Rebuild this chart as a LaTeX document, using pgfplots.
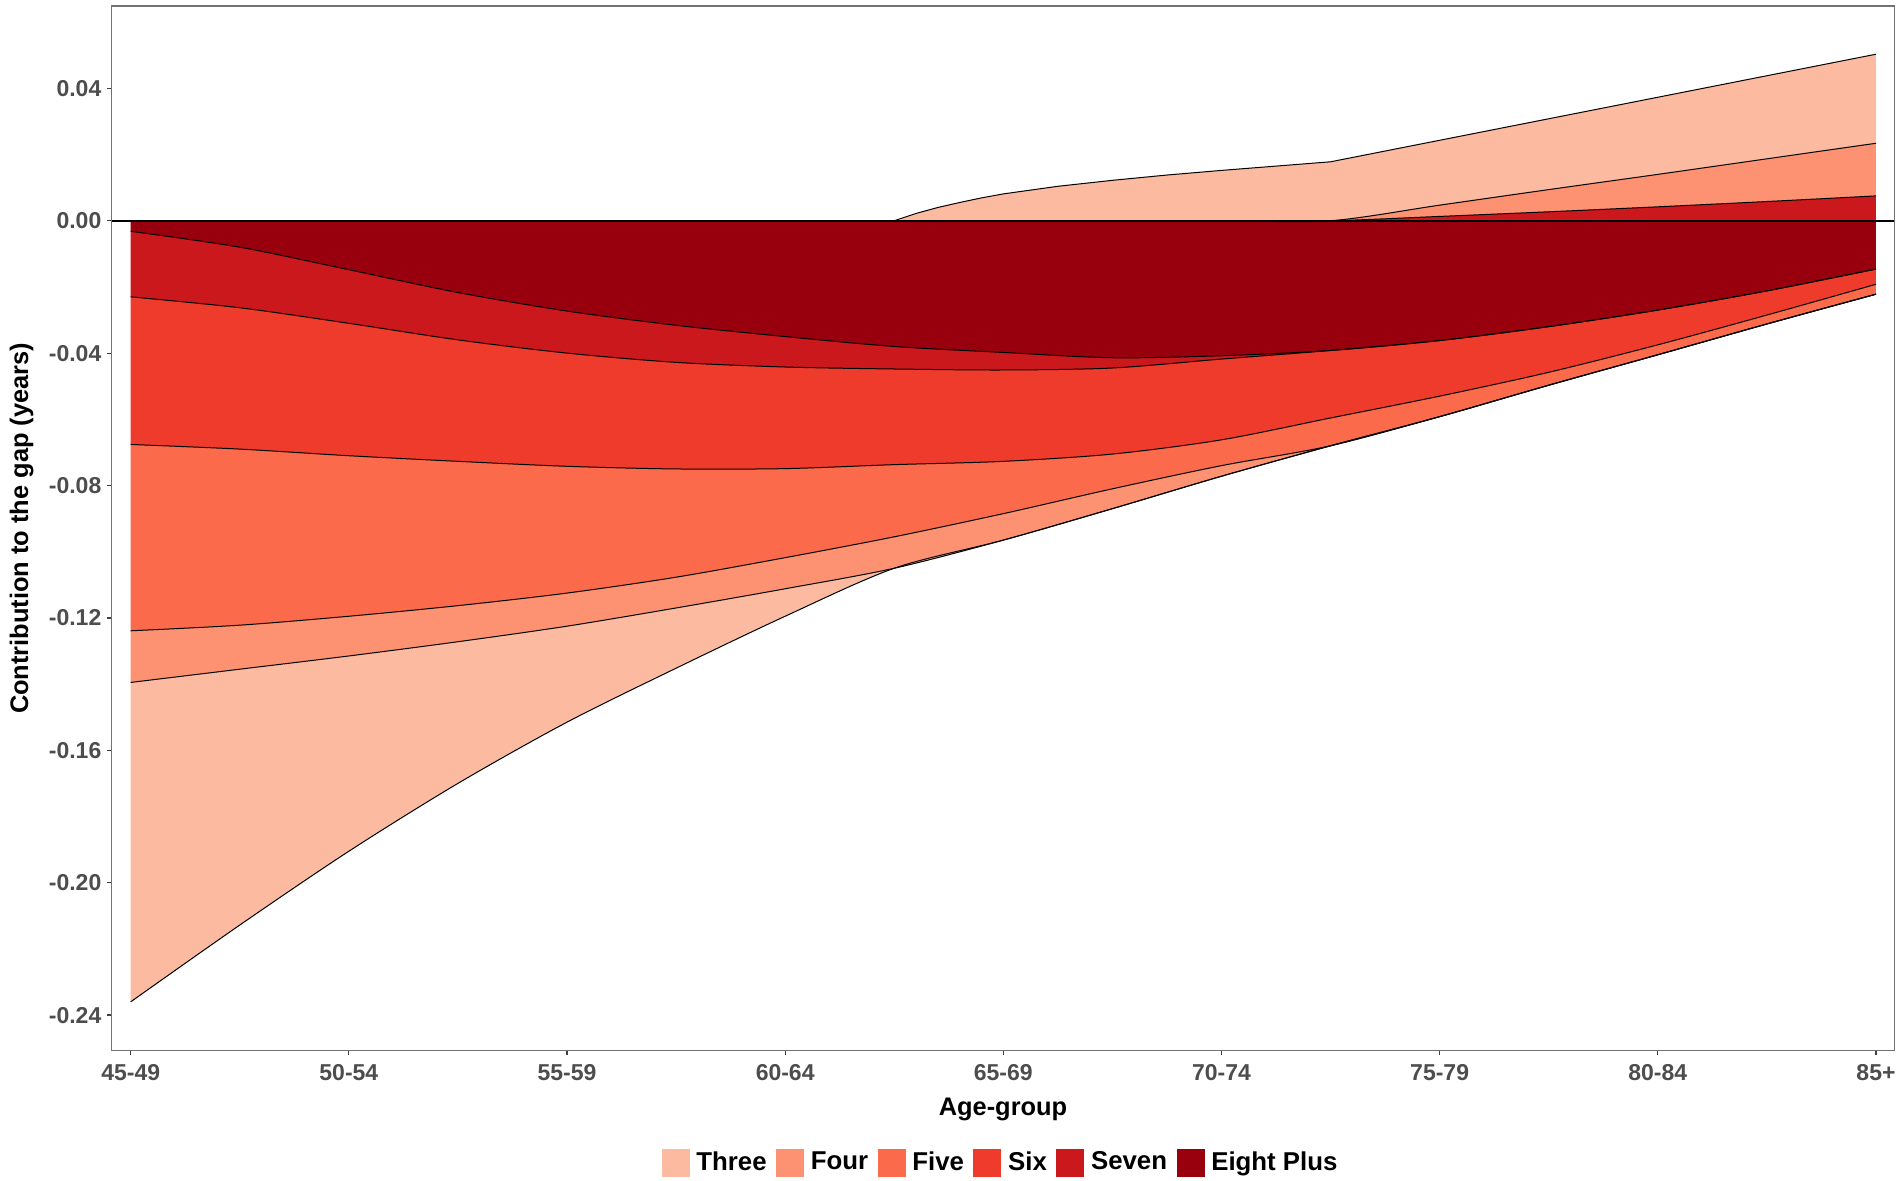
\documentclass[border=0pt]{standalone}
\usepackage{fontspec}
\setmainfont{Liberation Sans}
\usepackage{pgfplots}
\pgfplotsset{compat=1.18}
\usepgfplotslibrary{fillbetween}
\usepackage{pgfplotstable}

\definecolor{cThree}{HTML}{FCBBA1}
\definecolor{cFour}{HTML}{FC9272}
\definecolor{cFive}{HTML}{FB6A4A}
\definecolor{cSix}{HTML}{EF3B2C}
\definecolor{cSeven}{HTML}{CB181D}
\definecolor{cEight}{HTML}{99000D}
\definecolor{tickgrey}{HTML}{4D4D4D}

% boundaries of the stacked areas (negative stack: E, S7, S6, S5, S4, S3; positive stack: P7, P4)
\pgfplotstableread{
x     E        S7       S6       S5       S4       S3       P7      P4      Z
0     -0.0032  -0.0230  -0.0676  -0.1239  -0.1395  -0.2360  0       0       0
0.5   -0.0080  -0.0263  -0.0690  -0.1222  -0.1355  -0.2128  0       0       0
1     -0.0148  -0.0310  -0.0710  -0.1195  -0.1315  -0.1905  0       0       0
1.5   -0.0217  -0.0360  -0.0727  -0.1163  -0.1272  -0.1700  0       0       0
2     -0.0273  -0.0400  -0.0742  -0.1125  -0.1225  -0.1515  0       0       0
2.5   -0.0316  -0.0428  -0.0750  -0.1077  -0.1170  -0.1352  0       0       0
3     -0.0350  -0.0442  -0.0749  -0.1018  -0.1112  -0.1195  0       0       0
3.5   -0.0380  -0.0448  -0.0737  -0.0955  -0.1050  -0.1050  0       0       0
4     -0.0398  -0.0451  -0.0727  -0.0885  -0.0965  -0.0965  0       0       0
4.5   -0.0414  -0.0445  -0.0705  -0.0810  -0.0870  -0.0870  0       0       0
5     -0.0408  -0.0418  -0.0662  -0.0740  -0.0772  -0.0772  0       0       0
5.5   -0.0392  -0.0392  -0.0596  -0.0680  -0.0680  -0.0680  0       0       0
6     -0.0362  -0.0362  -0.0530  -0.0592  -0.0592  -0.0592  0.0013  0.0047  0
6.5   -0.0320  -0.0320  -0.0458  -0.0497  -0.0497  -0.0497  0.0027  0.0094  0
7     -0.0270  -0.0270  -0.0375  -0.0405  -0.0405  -0.0405  0.0042  0.0140  0
7.5   -0.0212  -0.0212  -0.0285  -0.0312  -0.0312  -0.0312  0.0058  0.0187  0
8     -0.0146  -0.0146  -0.0192  -0.0222  -0.0222  -0.0222  0.0075  0.0234  0
}\bands

% top of the positive stack (Three)
\pgfplotstableread{
x     P3
0     0
3.5   0
3.6   0.0022
3.7   0.0040
3.8   0.0055
3.9   0.0069
4.0   0.0081
4.25  0.0104
4.5   0.0122
4.75  0.0138
5.0   0.0152
5.25  0.0165
5.5   0.0178
6     0.0243
6.5   0.0308
7     0.0373
7.5   0.0438
8     0.0503
}\threetop

\begin{document}
\begin{tikzpicture}
\begin{axis}[
  scale only axis, width=891.3pt, height=522.35pt,
  xmin=-0.087, xmax=8.084, ymin=-0.25076, ymax=0.06487,
  axis line style={draw=black!55, line width=0.7pt},
  xtick={0,1,2,3,4,5,6,7,8},
  xticklabels={45-49,50-54,55-59,60-64,65-69,70-74,75-79,80-84,85+},
  ytick={-0.24,-0.20,-0.16,-0.12,-0.08,-0.04,0,0.04},
  yticklabels={-0.24,-0.20,-0.16,-0.12,-0.08,-0.04,0.00,0.04},
  tick align=outside, major tick length=2.15pt,
  xtick pos=bottom, ytick pos=left,
  tick style={draw=black!75, line width=0.6pt},
  ticklabel style={font=\fontsize{11.5}{13}\selectfont\bfseries, text=tickgrey},
  yticklabel style={inner sep=0pt, xshift=-2.85pt},
  xticklabel style={inner sep=0pt, yshift=-4.6pt},
  xlabel={Age-group},
  ylabel={Contribution to the gap (years)},
  label style={font=\fontsize{12.7}{14}\selectfont\bfseries, text=black},
  xlabel style={at={(axis description cs:0.5,-0.0567)}, anchor=center},
  ylabel style={at={(axis description cs:-0.0505,0.5)}, anchor=center},
  legend style={at={(axis description cs:0.5,-0.1070)}, anchor=center,
    draw=none, fill=none, inner sep=0pt,
    font=\fontsize{12.9}{14}\selectfont\bfseries,
    nodes={inner xsep=3.5pt, inner ysep=0pt},
    /tikz/every even column/.append style={column sep=1.2pt}},
  legend columns=6,
]
% named boundary paths
\addplot[name path=Z, draw=none, forget plot] table[x=x, y=Z]{\bands};
\addplot[name path=E, draw=none, smooth, forget plot] table[x=x, y=E]{\bands};
\addplot[name path=S7, draw=none, smooth, forget plot] table[x=x, y=S7]{\bands};
\addplot[name path=S6, draw=none, smooth, forget plot] table[x=x, y=S6]{\bands};
\addplot[name path=S5, draw=none, smooth, forget plot] table[x=x, y=S5]{\bands};
\addplot[name path=S4, draw=none, smooth, forget plot] table[x=x, y=S4]{\bands};
\addplot[name path=S3, draw=none, smooth, forget plot] table[x=x, y=S3]{\bands};
\addplot[name path=P7, draw=none, smooth, forget plot] table[x=x, y=P7]{\bands};
\addplot[name path=P4, draw=none, smooth, forget plot] table[x=x, y=P4]{\bands};
\addplot[name path=P3, draw=none, forget plot] table[x=x, y=P3]{\threetop};
% fills
\addplot[fill=cEight, draw=none, forget plot] fill between[of=Z and E];
\addplot[fill=cSeven, draw=none, forget plot] fill between[of=E and S7];
\addplot[fill=cSix, draw=none, forget plot] fill between[of=S7 and S6];
\addplot[fill=cFive, draw=none, forget plot] fill between[of=S6 and S5];
\addplot[fill=cFour, draw=none, forget plot] fill between[of=S5 and S4];
\addplot[fill=cThree, draw=none, forget plot] fill between[of=S4 and S3];
\addplot[fill=cSeven, draw=none, forget plot] fill between[of=Z and P7];
\addplot[fill=cFour, draw=none, forget plot] fill between[of=P7 and P4];
\addplot[fill=cThree, draw=none, forget plot] fill between[of=P4 and P3];
% outlines
\addplot[black, line width=0.5pt, smooth, forget plot] table[x=x, y=E]{\bands};
\addplot[black, line width=0.5pt, smooth, forget plot] table[x=x, y=S7]{\bands};
\addplot[black, line width=0.5pt, smooth, forget plot] table[x=x, y=S6]{\bands};
\addplot[black, line width=0.5pt, smooth, forget plot] table[x=x, y=S5]{\bands};
\addplot[black, line width=0.5pt, smooth, forget plot] table[x=x, y=S4]{\bands};
\addplot[black, line width=0.5pt, smooth, forget plot] table[x=x, y=S3]{\bands};
\addplot[black, line width=0.5pt, smooth, forget plot] table[x=x, y=P7]{\bands};
\addplot[black, line width=0.5pt, smooth, forget plot] table[x=x, y=P4]{\bands};
\addplot[black, line width=0.5pt, forget plot] table[x=x, y=P3]{\threetop};
% zero line
\addplot[black, line width=1pt, forget plot] coordinates {(-0.087,0) (8.084,0)};
% legend
\addlegendimage{legend image code/.code={\fill[cThree] (0pt,-6.75pt) rectangle (13.5pt,6.75pt);}}
\addlegendentry{Three}
\addlegendimage{legend image code/.code={\fill[cFour] (0pt,-6.75pt) rectangle (13.5pt,6.75pt);}}
\addlegendentry{Four}
\addlegendimage{legend image code/.code={\fill[cFive] (0pt,-6.75pt) rectangle (13.5pt,6.75pt);}}
\addlegendentry{Five}
\addlegendimage{legend image code/.code={\fill[cSix] (0pt,-6.75pt) rectangle (13.5pt,6.75pt);}}
\addlegendentry{Six}
\addlegendimage{legend image code/.code={\fill[cSeven] (0pt,-6.75pt) rectangle (13.5pt,6.75pt);}}
\addlegendentry{Seven}
\addlegendimage{legend image code/.code={\fill[cEight] (0pt,-6.75pt) rectangle (13.5pt,6.75pt);}}
\addlegendentry{Eight Plus}
\end{axis}
\pgfresetboundingbox
\useasboundingbox (-55.85pt,-64.65pt) rectangle (895.15pt,525.35pt);
\end{tikzpicture}
\end{document}
